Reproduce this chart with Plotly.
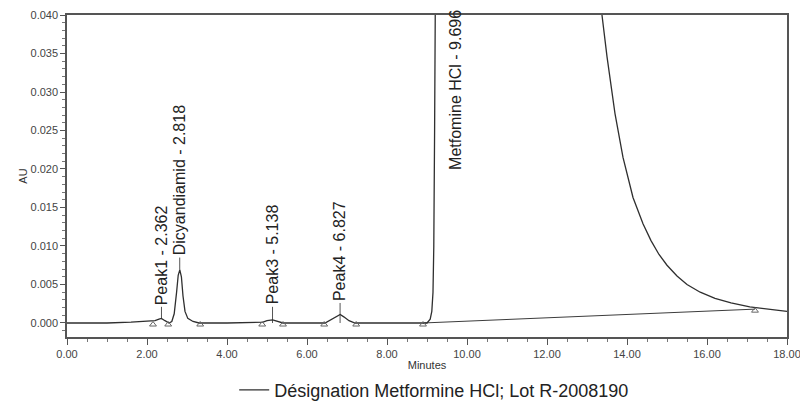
import plotly.graph_objects as go

# ---- data ----
time_min = [0.00, 1.00, 1.60, 2.00, 2.20, 2.30, 2.36, 2.45, 2.55, 2.62, 2.68, 2.74, 2.78, 2.82,
            2.86, 2.90, 2.95, 3.02, 3.15, 3.30, 4.00, 4.90, 5.00, 5.14, 5.28, 5.40, 6.45,
            6.60, 6.75, 6.83, 6.92, 7.05, 7.20, 8.90, 9.00, 9.08, 9.12, 9.15, 9.17, 9.19,
            9.20, 9.22, 9.30, 9.70, 10.50, 12.00, 13.00, 13.20, 13.38, 13.50, 13.70, 13.90,
            14.15, 14.40, 14.60, 14.80, 15.00, 15.25, 15.50, 15.83, 16.20, 16.60, 17.07,
            17.50, 18.00]
au = [0.0000, 0.0000, 0.0001, 0.0002, 0.0003, 0.0005, 0.0006, 0.0003, 0.0000, 0.0002, 0.0012,
      0.0040, 0.0062, 0.0069, 0.0060, 0.0035, 0.0015, 0.0006, 0.0002, 0.0000, 0.0000, 0.0001,
      0.0003, 0.0004, 0.0002, 0.0000, 0.0000, 0.0004, 0.0009, 0.0011, 0.0008, 0.0003, 0.0000,
      0.0000, 0.0000, 0.0005, 0.0015, 0.0040, 0.0100, 0.0250, 0.0400, 0.0600, 0.1500, 0.5000,
      0.3000, 0.1200, 0.0560, 0.0475, 0.0400, 0.0346, 0.0272, 0.0215, 0.0163, 0.0129, 0.0107,
      0.0089, 0.0075, 0.0061, 0.0050, 0.0040, 0.0032, 0.0026, 0.0021, 0.0018, 0.0015]

baseline_t = [8.90, 17.20]
baseline_au = [0.0000, 0.0018]

marker_t = [2.15, 2.53, 3.33, 4.88, 5.40, 6.43, 7.23, 8.90, 17.20]
marker_au = [-0.0002, -0.0002, -0.0002, -0.0002, -0.0002, -0.0002, -0.0002, -0.0002, 0.0016]

peak_names = ["Peak1", "Dicyandiamid", "Peak3", "Peak4", "Metfomine HCl"]
peak_rt = [2.362, 2.818, 5.138, 6.827, 9.696]
tick_low = [0.0005, 0.0069, 0.0000, 0.0000, None]
label_au = [0.0021, 0.0085, 0.0021, 0.0026, 0.0196]

legend_name = "Désignation Metformine HCl; Lot R-2008190"

FONT = "Liberation Sans, Arial, sans-serif"

fig = go.Figure()

fig.add_trace(go.Scatter(x=baseline_t, y=baseline_au, mode="lines",
                         line=dict(color="#3c3c3c", width=1), showlegend=False,
                         hoverinfo="skip"))

# vertical label ticks / drop lines
vx, vy = [], []
for rt, lo, hi in zip(peak_rt, tick_low, label_au):
    if lo is None:
        continue
    vx += [rt, rt, None]
    vy += [lo, hi, None]
fig.add_trace(go.Scatter(x=vx, y=vy, mode="lines", line=dict(color="#555555", width=1),
                         showlegend=False, hoverinfo="skip"))

fig.add_trace(go.Scatter(x=time_min, y=au, mode="lines", name=legend_name,
                         line=dict(color="#2f2f2f", width=1.3), showlegend=True))

fig.add_trace(go.Scatter(x=marker_t, y=marker_au, mode="markers",
                         marker=dict(symbol="triangle-up-open", size=6, color="#666666",
                                     line=dict(width=1)),
                         showlegend=False, hoverinfo="skip"))

for name, rt, ly in zip(peak_names, peak_rt, label_au):
    fig.add_annotation(x=rt, y=ly, xref="x", yref="y", text=f"{name} - {rt:.3f}",
                       showarrow=False, textangle=-90, xanchor="center", yanchor="bottom",
                       font=dict(family=FONT, size=16, color="#222222"))

fig.update_layout(
    width=800, height=401,
    margin=dict(l=67, r=13, t=15, b=64, autoexpand=False),
    paper_bgcolor="white", plot_bgcolor="white",
    font=dict(family=FONT, color="#333333"),
    showlegend=True,
    legend=dict(orientation="h", x=0.51, xanchor="center", y=-0.165, yanchor="middle",
                font=dict(family=FONT, size=18, color="#222222"), bgcolor="rgba(0,0,0,0)"),
)

fig.update_xaxes(range=[0, 18], dtick=2, tick0=0, tickformat=".2f", automargin=False,
                 ticklabeloverflow="allow",
                 showgrid=False, zeroline=False,
                 showline=True, linecolor="#555555", linewidth=1.5, mirror=True,
                 ticks="outside", ticklen=6, tickcolor="#555555",
                 minor=dict(dtick=0.5, ticks="outside", ticklen=3, tickcolor="#777777"),
                 tickfont=dict(family=FONT, size=11, color="#444444"),
                 title=dict(text="Minutes", standoff=2,
                            font=dict(family=FONT, size=11, color="#333333")))

fig.update_yaxes(range=[-0.00182, 0.040], dtick=0.005, tick0=0, tickformat=".3f",
                 automargin=False, ticklabeloverflow="allow",
                 showgrid=False, zeroline=False,
                 showline=True, linecolor="#555555", linewidth=1.5, mirror=True,
                 ticks="outside", ticklen=5, tickcolor="#555555",
                 minor=dict(dtick=0.001, ticks="outside", ticklen=3, tickcolor="#777777"),
                 tickfont=dict(family=FONT, size=11, color="#444444"),
                 title=dict(text="AU", standoff=1,
                            font=dict(family=FONT, size=11, color="#333333")))

fig.write_html("out.html", config={"displayModeBar": False},
               post_script="document.body.style.margin='0';document.body.style.overflow='hidden';")
